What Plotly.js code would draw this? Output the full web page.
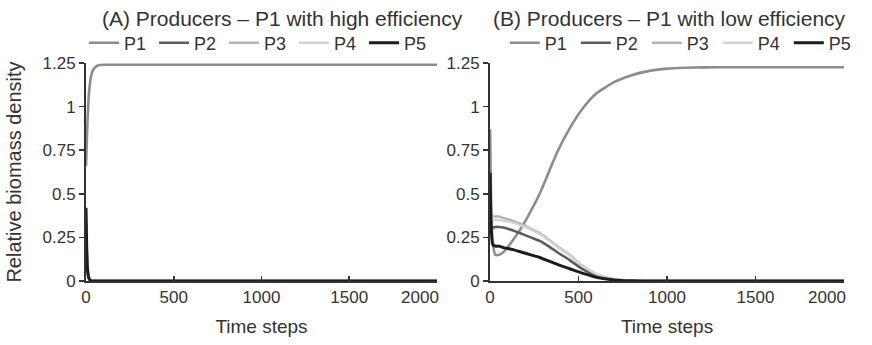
<!DOCTYPE html>
<html>
<head>
<meta charset="utf-8">
<script src="https://cdn.plot.ly/plotly-3.0.1.min.js"></script>
<style>html,body{margin:0;padding:0;background:#fff;overflow:hidden;}#chart{width:872px;height:345px;}</style>
</head>
<body>
<div id="chart"></div>
<script>
// ---- Data ----
const seriesNames = ["P1", "P2", "P3", "P4", "P5"];
const panelTitles = ["(A) Producers \u2013 P1 with high efficiency", "(B) Producers \u2013 P1 with low efficiency"];
const xTickVals = [0, 500, 1000, 1500, 2000];
const xTickText = ["0", "500", "1000", "1500", "2000"];
const yTickVals = [0, 0.25, 0.5, 0.75, 1, 1.25];
const yTickText = ["0", "0.25", "0.5", "0.75", "1", "1.25"];

// Panel A: P1 with high efficiency
const timeA = [0, 2, 5, 10, 15, 20, 30, 40, 60, 80, 100, 200, 500, 1000, 1500, 2000];
const p1A = [0.66, 0.72, 0.82, 0.95, 1.05, 1.11, 1.18, 1.21, 1.232, 1.238, 1.24, 1.24, 1.24, 1.24, 1.24, 1.24];
const p2A = [0.30, 0.25, 0.15, 0.06, 0.02, 0.01, 0, 0, 0, 0, 0, 0, 0, 0, 0, 0];
const p3A = [0.35, 0.30, 0.18, 0.07, 0.03, 0.01, 0, 0, 0, 0, 0, 0, 0, 0, 0, 0];
const p4A = [0.33, 0.28, 0.17, 0.07, 0.03, 0.01, 0, 0, 0, 0, 0, 0, 0, 0, 0, 0];
const p5A = [0.42, 0.30, 0.15, 0.05, 0.02, 0.01, 0, 0, 0, 0, 0, 0, 0, 0, 0, 0];

// Panel B: P1 with low efficiency
const timeB = [0, 5, 15, 30, 50, 80, 130, 180, 230, 280, 330, 380, 450, 520, 600, 700, 800, 900, 1000, 1100, 1200, 1400, 1600, 1800, 2000];
const p1B = [0.87, 0.50, 0.22, 0.15, 0.15, 0.17, 0.235, 0.31, 0.40, 0.50, 0.62, 0.74, 0.875, 0.985, 1.075, 1.14, 1.18, 1.205, 1.218, 1.223, 1.225, 1.226, 1.226, 1.226, 1.226];
const p2B = [0.30, 0.30, 0.305, 0.31, 0.31, 0.305, 0.29, 0.27, 0.25, 0.23, 0.20, 0.165, 0.12, 0.07, 0.03, 0.006, 0.001, 0, 0, 0, 0, 0, 0, 0, 0];
const p3B = [0.36, 0.365, 0.37, 0.37, 0.37, 0.36, 0.345, 0.325, 0.30, 0.275, 0.24, 0.20, 0.15, 0.09, 0.04, 0.01, 0.002, 0, 0, 0, 0, 0, 0, 0, 0];
const p4B = [0.34, 0.345, 0.35, 0.35, 0.35, 0.345, 0.335, 0.315, 0.295, 0.27, 0.235, 0.195, 0.145, 0.09, 0.04, 0.012, 0.002, 0, 0, 0, 0, 0, 0, 0, 0];
const p5B = [0.62, 0.35, 0.21, 0.20, 0.20, 0.19, 0.18, 0.165, 0.15, 0.135, 0.115, 0.095, 0.07, 0.045, 0.022, 0.006, 0.001, 0, 0, 0, 0, 0, 0, 0, 0];

// ---- Styles ----
const colors = ["#8c8c8c", "#5c5c5c", "#b4b4b4", "#d2d2d2", "#1c1c1c"];
const widths = [2.6, 2.6, 2.4, 2.4, 3];
const FONT = "Liberation Sans, Arial, sans-serif";
const TXT = "#333";

const seriesA = [p1A, p2A, p3A, p4A, p5A];
const seriesB = [p1B, p2B, p3B, p4B, p5B];

const traces = [];
seriesA.forEach((ys, i) => traces.push({
  x: timeA, y: ys, name: seriesNames[i], type: "scatter", mode: "lines",
  line: {color: colors[i], width: widths[i], shape: "spline", smoothing: 0.6},
  xaxis: "x", yaxis: "y", legend: "legend"
}));
seriesB.forEach((ys, i) => traces.push({
  x: timeB, y: ys, name: seriesNames[i], type: "scatter", mode: "lines",
  line: {color: colors[i], width: widths[i], shape: "spline", smoothing: 0.6},
  xaxis: "x2", yaxis: "y2", legend: "legend2"
}));
// empty carriers so the overlaying end-tick axes are drawn (no marks)
traces.push({x: [], y: [], type: "scatter", mode: "lines", xaxis: "x3", yaxis: "y", showlegend: false, hoverinfo: "skip"});
traces.push({x: [], y: [], type: "scatter", mode: "lines", xaxis: "x4", yaxis: "y2", showlegend: false, hoverinfo: "skip"});

const L = 86, R = 15, T = 63, B = 64, W = 872, H = 345;
const pw = W - L - R, ph = H - T - B;
const px = v => (v - L) / pw;
const py = v => (H - B - v) / ph;

const nMain = xTickVals.length - 1;
function xAxis(domain, anchor) {
  return {
    domain: domain, anchor: anchor, range: [0, 2000],
    tickvals: xTickVals.slice(0, nMain), ticktext: xTickText.slice(0, nMain),
    showline: true, linecolor: TXT, linewidth: 2,
    ticks: "inside", ticklen: 5, tickwidth: 1.5, tickcolor: TXT,
    showgrid: false, zeroline: false,
    tickfont: {family: FONT, size: 17, color: TXT},
    title: {text: "Time steps", font: {family: FONT, size: 19, color: TXT}, standoff: 13},
    automargin: false
  };
}
// last x tick: drawn on an overlaying axis so its label sits inside the axis end, as in the reference
function xAxisEnd(over, anchor) {
  return {
    overlaying: over, anchor: anchor, side: "bottom", range: [0, 2000],
    tickvals: xTickVals.slice(nMain), ticktext: xTickText.slice(nMain),
    showline: true, linecolor: TXT, linewidth: 2,
    ticks: "inside", ticklen: 5, tickwidth: 1.5, tickcolor: TXT,
    showgrid: false, zeroline: false,
    tickfont: {family: FONT, size: 17, color: TXT},
    ticklabelshift: -17,
    title: {text: ""},
    automargin: false
  };
}
function yAxis(anchor, withTitle) {
  return {
    domain: [0, 1], anchor: anchor, range: [0, 1.25],
    tickvals: yTickVals, ticktext: yTickText,
    showline: true, linecolor: TXT, linewidth: 2,
    ticks: "outside", ticklen: 5, tickwidth: 1.5, tickcolor: TXT,
    showgrid: false, zeroline: false,
    tickfont: {family: FONT, size: 17, color: TXT},
    title: withTitle ? {text: "Relative biomass density", font: {family: FONT, size: 20, color: TXT}, standoff: 16} : {text: ""},
    automargin: false
  };
}

const legendBase = {
  orientation: "h", yanchor: "middle", xanchor: "left",
  font: {family: FONT, size: 18, color: TXT},
  bgcolor: "rgba(0,0,0,0)", borderwidth: 0,
  entrywidthmode: "pixels",
  itemclick: false, itemdoubleclick: false, tracegroupgap: 0
};

const layout = {
  width: W, height: H,
  margin: {l: L, r: R, t: T, b: B},
  paper_bgcolor: "#fff", plot_bgcolor: "#fff",
  showlegend: true,
  xaxis: xAxis([0, px(443)], "y"),
  xaxis2: xAxis([px(497), 1], "y2"),
  xaxis3: xAxisEnd("x", "y"),
  xaxis4: xAxisEnd("x2", "y2"),
  yaxis: yAxis("x", true),
  yaxis2: yAxis("x2", false),
  legend: Object.assign({}, legendBase, {x: px(84), y: py(43), entrywidth: 25}),
  legend2: Object.assign({}, legendBase, {x: px(512), y: py(43), entrywidth: 26}),
  annotations: [
    {text: panelTitles[0], xref: "paper", yref: "paper", x: px(286), y: py(18), xanchor: "center", yanchor: "middle", showarrow: false, font: {family: FONT, size: 21, color: TXT}},
    {text: panelTitles[1], xref: "paper", yref: "paper", x: px(680), y: py(18), xanchor: "center", yanchor: "middle", showarrow: false, font: {family: FONT, size: 21, color: TXT}}
  ]
};

Plotly.newPlot("chart", traces, layout, {displayModeBar: false, staticPlot: true});
</script>
</body>
</html>
